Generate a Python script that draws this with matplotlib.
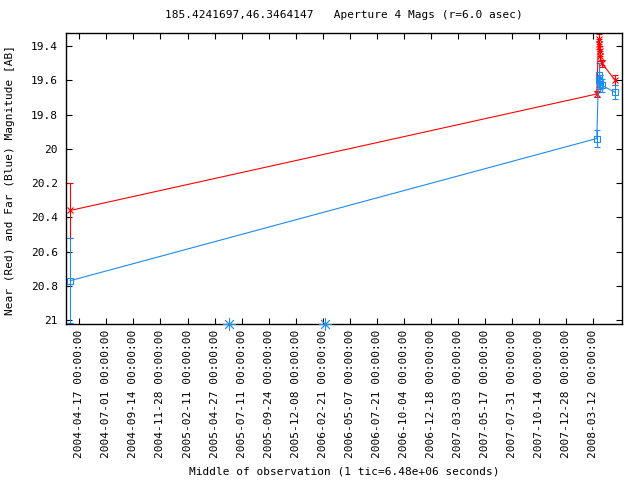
import matplotlib
matplotlib.use('Agg')
import matplotlib.pyplot as plt
import matplotlib.dates as mdates
from datetime import datetime

plt.rcParams['font.family'] = ['DejaVu Sans Mono']
plt.rcParams['font.size'] = 8

obs_dates = ['2004-03-23 00:00', '2008-03-22 00:00', '2008-03-27 00:00', '2008-03-28 12:00',
             '2008-03-30 00:00', '2008-04-01 00:00', '2008-04-05 00:00', '2008-05-12 00:00']
near_mag = [20.36, 19.68, 19.36, 19.39, 19.43, 19.46, 19.50, 19.60]
near_err = [0.16, 0.02, 0.03, 0.03, 0.03, 0.03, 0.02, 0.03]
far_mag = [20.77, 19.94, 19.57, 19.60, 19.62, 19.61, 19.63, 19.67]
far_err = [0.25, 0.05, 0.07, 0.05, 0.05, 0.04, 0.04, 0.04]
limit_dates = ['2005-06-07', '2006-02-28']
tick_dates = ['2004-04-17', '2004-07-01', '2004-09-14', '2004-11-28', '2005-02-11',
              '2005-04-27', '2005-07-11', '2005-09-24', '2005-12-08', '2006-02-21',
              '2006-05-07', '2006-07-21', '2006-10-04', '2006-12-18', '2007-03-03',
              '2007-05-17', '2007-07-31', '2007-10-14', '2007-12-28', '2008-03-12']
y_ticks = [19.4, 19.6, 19.8, 20.0, 20.2, 20.4, 20.6, 20.8, 21.0]
y_ticklabels = ['19.4', '19.6', '19.8', '20', '20.2', '20.4', '20.6', '20.8', '21']

RED = '#ff0000'
BLUE = '#1e8cf0'

def parse(s):
    return datetime.strptime(s, '%Y-%m-%d %H:%M') if ' ' in s else datetime.strptime(s, '%Y-%m-%d')

x = [parse(d) for d in obs_dates]
xl = [parse(d) for d in limit_dates]
xt = [parse(d) for d in tick_dates]

fig = plt.figure(figsize=(6.4, 4.8), dpi=100)
ax = fig.add_axes([66/640, 1-324/480, (622-66)/640, (324-33)/480])

ax.errorbar(x, near_mag, yerr=near_err, color=RED, lw=0.8, elinewidth=0.8,
            capsize=2.5, capthick=0.8, marker='x', ms=5, mew=0.8)
ax.errorbar(x, far_mag, yerr=far_err, color=BLUE, lw=0.8, elinewidth=0.8,
            capsize=2.5, capthick=0.8, marker='s', ms=5, mfc='none', mew=0.8)

ymin, ymax = 21.023, 19.324
ax.set_ylim(ymin, ymax)
ax.set_xlim(parse('2004-03-11'), parse('2008-05-31'))

ax.plot(xl, [ymin]*len(xl), linestyle='none', marker=(8, 2, 0), ms=9, mew=0.6,
        color=BLUE, clip_on=False, zorder=5)

ax.set_xticks(mdates.date2num(xt))
ax.set_xticklabels([d.strftime('%Y-%m-%d %H:%M:%S') for d in xt], rotation=90, va='top', ha='center')
ax.set_yticks(y_ticks)
ax.set_yticklabels(y_ticklabels)

ax.tick_params(direction='in', length=4, width=0.8, top=True, right=True, pad=6)
ax.tick_params(axis='x', pad=4)
for s in ax.spines.values():
    s.set_linewidth(1.0)

fig.text(344/640, 1-15/480, '185.4241697,46.3464147   Aperture 4 Mags (r=6.0 asec)',
         ha='center', va='center')
fig.text(344/640, 1-472/480, 'Middle of observation (1 tic=6.48e+06 seconds)',
         ha='center', va='center')
fig.text(10/640, 1-180/480, 'Near (Red) and Far (Blue) Magnitude [AB]',
         ha='center', va='center', rotation=90)

fig.savefig('out.png', dpi=100)
